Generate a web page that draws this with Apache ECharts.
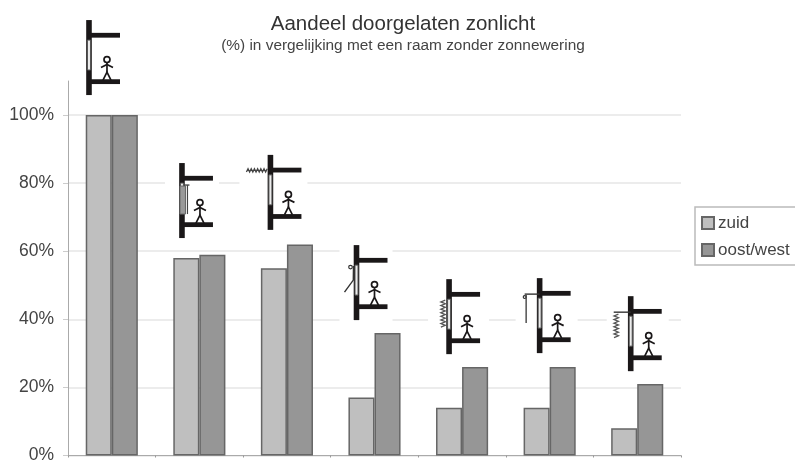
<!DOCTYPE html>
<html>
<head>
<meta charset="utf-8">
<style>
html,body{margin:0;padding:0;background:#fff;overflow:hidden}
#c{width:795px;height:461px;filter:blur(0.7px)}
</style>
<script src="https://cdn.jsdelivr.net/npm/echarts@6/dist/echarts.min.js"></script>
</head>
<body>
<div id="c"></div>
<script>
const categories = ['1','2','3','4','5','6','7'];
const zuid = [100,58,55,17,14,14,8];
const oostWest = [100,59,62,36,26,26,21];
const seriesNames = ['zuid','oost/west'];
const titleText = 'Aandeel doorgelaten zonlicht';
const subtitleText = '(%) in vergelijking met een raam zonder zonnewering';

// Pictogram placement: wall offset from category centre (px), value at the wall top, white patch extent, shading kind
const iconDx = [-22.8,-17.4,-16.5,-18,-13,-10,-6.5];
const iconTopValue = [127.9,85.9,88.3,61.8,51.8,52.1,46.8];
const patchLeft = [0,-17,-31,-17,-21,-24,-24];
const patchRight = [0,37,37,36,40,38,38];
const shadeKind = ['none','curtain','awning','arm','blind','drop','dropBlind'];

const DARK = '#1a1718', MID = '#555';

function zigzagH(x0,x1,y,a){const p=[];let s=1;for(let x=x0;x<=x1;x+=1.6){p.push([x,y+s*a]);s=-s;}return p;}
function zigzagV(x,y0,y1,a){const p=[];let s=1;for(let y=y0;y<=y1;y+=1.8){p.push([x+s*a,y]);s=-s;}return p;}
const ln=(x1,y1,x2,y2,w,c)=>({type:'line',shape:{x1,y1,x2,y2},style:{stroke:c||MID,lineWidth:w||1,fill:null}});
const pl=(points,w,c)=>({type:'polyline',shape:{points},style:{stroke:c||MID,lineWidth:w||1,fill:null}});
const rc=(x,y,width,height,fill,stroke)=>({type:'rect',shape:{x,y,width,height},style:{fill,stroke:stroke||null,lineWidth:stroke?1:0}});

function iconChildren(i){
  const kids=[];
  if(patchRight[i]>patchLeft[i]) kids.push(rc(patchLeft[i],-2,patchRight[i]-patchLeft[i],79,'#fff'));
  // wall, slabs, window
  kids.push(rc(-2.8,0,5.6,75,DARK));
  kids.push(rc(0,12.8,31,4.8,DARK));
  kids.push(rc(0,59.2,31,4.8,DARK));
  kids.push(rc(-1.5,20,3,30,'#ececec','#555'));
  // person
  kids.push({type:'circle',shape:{cx:18,cy:39.5,r:3},style:{fill:'#fff',stroke:DARK,lineWidth:1.7}});
  kids.push(ln(18,43,18,52,1.7,DARK));
  kids.push(pl([[12,47.5],[18,44.5],[24,47.5]],1.7,DARK));
  kids.push(pl([[14,60],[18,52],[22,60]],1.7,DARK));
  switch(shadeKind[i]){
    case 'curtain':
      kids.push(rc(-2,23,5.5,28,'#999','#666'));
      kids.push(ln(5.5,22,5.5,51,1.2,'#444'));
      kids.push(ln(2,22,7.5,22,1.4,'#444'));
      break;
    case 'awning':
      kids.push(pl(zigzagH(-24,-2,15.5,1.7),1.3,'#444'));
      break;
    case 'arm':
      kids.push({type:'circle',shape:{cx:-6,cy:22,r:1.8},style:{fill:'#fff',stroke:'#333',lineWidth:1.2}});
      kids.push(pl([[-3,21],[-3.2,35],[-12,47]],1.4,'#333'));
      break;
    case 'blind':
      kids.push(pl(zigzagV(-6,21,49,2.2),1.3,'#555'));
      break;
    case 'drop':
      kids.push(ln(-15,16,0,16,1.4,'#333'));
      kids.push(ln(-13.5,17,-13.5,45,1.4,'#444'));
      kids.push({type:'circle',shape:{cx:-15,cy:19,r:1.4},style:{fill:'#fff',stroke:'#333',lineWidth:1.2}});
      break;
    case 'dropBlind':
      kids.push(ln(-17,16,0,16,1.4,'#333'));
      kids.push(pl(zigzagV(-14.5,18,43,2.2),1.3,'#555'));
      break;
  }
  return kids;
}

const chart = echarts.init(document.getElementById('c'),null,{renderer:'canvas'});
const font = '"Liberation Sans", Arial, sans-serif';
const barStyle = c => ({color:c,borderColor:'#666',borderWidth:1.5});
chart.setOption({
  animation:false,
  backgroundColor:'#fff',
  textStyle:{fontFamily:font},
  title:{
    text:titleText,subtext:subtitleText,left:398,top:9,textAlign:'center',itemGap:3,
    textStyle:{fontFamily:font,fontSize:20.5,fontWeight:'normal',color:'#333'},
    subtextStyle:{fontFamily:font,fontSize:15.4,color:'#444'}
  },
  legend:{
    data:seriesNames,orient:'vertical',left:695,top:207,
    backgroundColor:'#fff',borderColor:'#bbb',borderWidth:1.5,
    padding:[7.5,6,6.5,6],itemWidth:12,itemHeight:12,itemGap:10,
    icon:'rect',
    textStyle:{fontFamily:font,fontSize:17,color:'#444',padding:[0,0,0,-1]}
  },
  grid:{left:68,right:114,top:81,bottom:5.5,containLabel:false,outerBoundsMode:'none'},
  xAxis:{
    type:'category',data:categories,
    axisLine:{lineStyle:{color:'#aaa',width:1}},
    axisTick:{show:true,length:2,lineStyle:{color:'#999'}},
    axisLabel:{show:false},splitLine:{show:false}
  },
  yAxis:{
    type:'value',min:0,max:110,interval:20,
    axisLine:{show:true,lineStyle:{color:'#aaa',width:1}},
    axisTick:{show:true,length:5,lineStyle:{color:'#ccc'}},
    axisLabel:{
      margin:14,fontFamily:font,fontSize:17.5,color:'#444',showMaxLabel:false,
      formatter:v=>v+'%'
    },
    splitLine:{show:true,showMaxLine:false,lineStyle:{color:'#e6e6e6',width:1.5}}
  },
  series:[
    {name:seriesNames[0],type:'bar',data:zuid,barGap:0,barCategoryGap:'40.5%',itemStyle:barStyle('#bfbfbf'),z:3},
    {name:seriesNames[1],type:'bar',data:oostWest,itemStyle:barStyle('#969696'),z:3},
    {
      name:'pictogrammen',type:'custom',z:2,silent:true,clip:false,
      data:categories.map((c,i)=>[i,iconTopValue[i]]),
      renderItem(params,api){
        const i=params.dataIndex;
        const p=api.coord([api.value(0),api.value(1)]);
        return {type:'group',x:p[0]+iconDx[i],y:p[1],children:iconChildren(i)};
      }
    }
  ]
});
</script>
</body>
</html>
